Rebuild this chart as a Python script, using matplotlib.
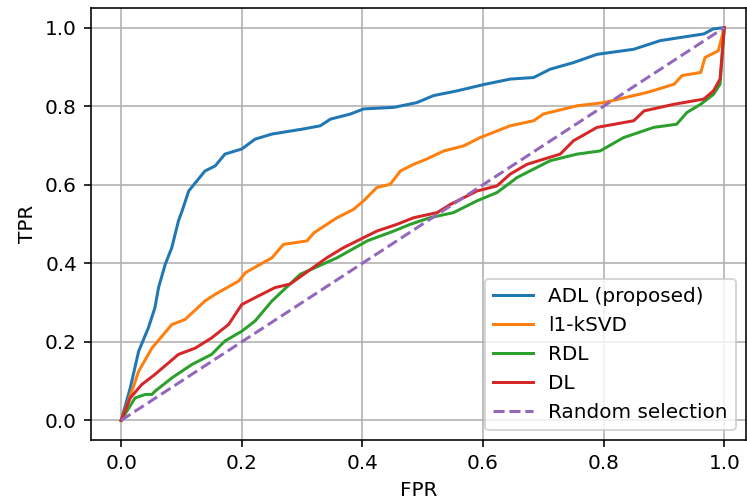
import matplotlib
matplotlib.use("Agg")
import matplotlib.pyplot as plt

# ROC curves
adl_fpr = [0.0, 0.015, 0.029, 0.045, 0.056, 0.062, 0.073, 0.084, 0.095, 0.101, 0.112,
           0.123, 0.139, 0.156, 0.172, 0.200, 0.222, 0.250, 0.302, 0.330, 0.347,
           0.380, 0.402, 0.452, 0.490, 0.518, 0.557, 0.601, 0.645, 0.684, 0.711,
           0.750, 0.789, 0.850, 0.894, 0.966, 0.982, 1.0]
adl_tpr = [0.0, 0.082, 0.176, 0.235, 0.287, 0.338, 0.397, 0.440, 0.508, 0.533, 0.584,
           0.605, 0.635, 0.648, 0.678, 0.691, 0.716, 0.729, 0.742, 0.750, 0.767,
           0.780, 0.793, 0.797, 0.809, 0.827, 0.839, 0.855, 0.869, 0.873, 0.894,
           0.911, 0.932, 0.945, 0.967, 0.984, 0.997, 1.0]

l1_fpr = [0.0, 0.012, 0.029, 0.051, 0.084, 0.106, 0.139, 0.156, 0.195, 0.206, 0.250,
          0.269, 0.308, 0.320, 0.358, 0.385, 0.402, 0.424, 0.446, 0.463, 0.485, 0.506,
          0.535, 0.568, 0.595, 0.645, 0.684, 0.700, 0.756, 0.800, 0.872, 0.917,
          0.930, 0.961, 0.968, 0.990, 1.0]
l1_tpr = [0.0, 0.048, 0.125, 0.184, 0.244, 0.257, 0.304, 0.321, 0.355, 0.376, 0.414,
          0.448, 0.457, 0.478, 0.516, 0.537, 0.559, 0.593, 0.601, 0.635, 0.652, 0.665,
          0.686, 0.699, 0.720, 0.750, 0.763, 0.780, 0.801, 0.809, 0.835, 0.856,
          0.878, 0.886, 0.924, 0.941, 1.0]

rdl_fpr = [0.0, 0.023, 0.040, 0.051, 0.056, 0.084, 0.117, 0.150, 0.172, 0.200, 0.222,
           0.250, 0.297, 0.358, 0.408, 0.452, 0.479, 0.512, 0.551, 0.590, 0.623,
           0.645, 0.656, 0.711, 0.756, 0.794, 0.833, 0.883, 0.921, 0.938, 0.961,
           0.982, 0.993, 1.0]
rdl_tpr = [0.0, 0.057, 0.066, 0.066, 0.074, 0.108, 0.142, 0.168, 0.202, 0.227, 0.253,
           0.304, 0.372, 0.414, 0.457, 0.482, 0.499, 0.516, 0.529, 0.559, 0.580,
           0.605, 0.618, 0.661, 0.678, 0.686, 0.720, 0.746, 0.754, 0.784, 0.805,
           0.830, 0.856, 1.0]

dl_fpr = [0.0, 0.015, 0.034, 0.056, 0.095, 0.123, 0.150, 0.178, 0.200, 0.233, 0.255,
          0.280, 0.341, 0.369, 0.424, 0.457, 0.485, 0.524, 0.546, 0.590, 0.623,
          0.645, 0.673, 0.728, 0.750, 0.789, 0.850, 0.867, 0.917, 0.966, 0.982,
          0.993, 1.0]
dl_tpr = [0.0, 0.057, 0.091, 0.117, 0.168, 0.184, 0.210, 0.244, 0.295, 0.321, 0.338,
          0.347, 0.414, 0.440, 0.482, 0.499, 0.516, 0.529, 0.550, 0.584, 0.597,
          0.627, 0.652, 0.678, 0.712, 0.746, 0.763, 0.788, 0.805, 0.818, 0.839,
          0.869, 1.0]

rand_fpr = [0.0, 1.0]
rand_tpr = [0.0, 1.0]

fig = plt.figure(figsize=(747 / 144, 504 / 144), dpi=144)
ax = fig.add_axes([91 / 747, 64 / 504, 655 / 747, 432 / 504])

ax.plot(adl_fpr, adl_tpr, label="ADL (proposed)")
ax.plot(l1_fpr, l1_tpr, label="l1-kSVD")
ax.plot(rdl_fpr, rdl_tpr, label="RDL")
ax.plot(dl_fpr, dl_tpr, label="DL")
ax.plot(rand_fpr, rand_tpr, "--", color="C4", label="Random selection")

ax.set_xlim(-0.05, 1.036)
ax.set_ylim(-0.05, 1.05)
ax.grid(True)
ax.set_xlabel("FPR")
ax.set_ylabel("TPR")
ax.legend(loc="lower right")

fig.savefig("out.png", dpi=144)
